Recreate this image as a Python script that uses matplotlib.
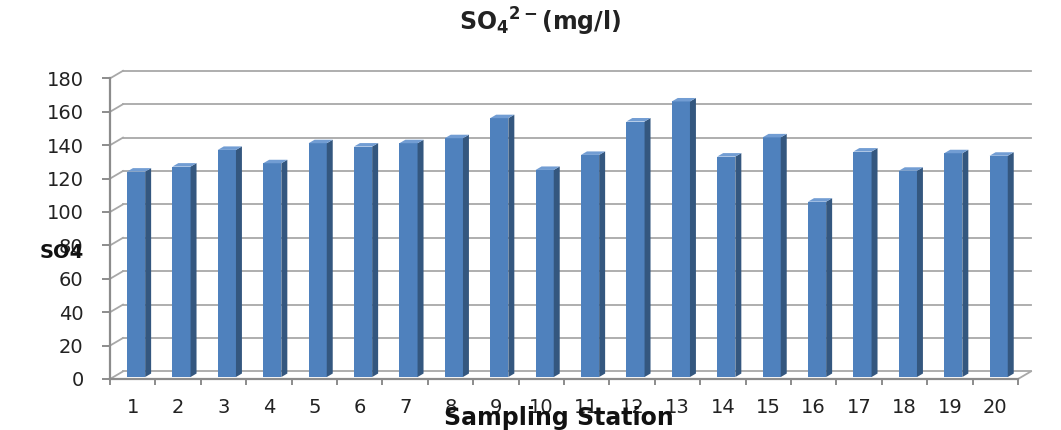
import matplotlib.pyplot as plt
from matplotlib.patches import Polygon

# sulphate concentration per sampling station (mg/l)
stations = [str(i) for i in range(1, 21)]
so4 = [123, 126, 136, 128, 140, 138, 140, 143, 155, 124,
       133, 153, 165, 132, 143.5, 105, 135, 123.5, 134, 132.5]
y_ticks = list(range(0, 181, 20))

FRONT = '#4f81bd'
SIDE = '#34577f'
TOP = '#729dd3'
GRID = '#a8a8a8'
AXIS = '#8c8c8c'

# depth of the back wall in data units (x in categories, y in mg/l)
WALL_DX = 0.286
WALL_DY = 4.55
# bars sit a quarter of the way into the floor and are about half as deep
BAR_D0 = 0.26
BAR_DEPTH = 0.46
BAR_W = 0.40

plt.rcParams['mathtext.fontset'] = 'dejavusans'

fig = plt.figure(figsize=(10.61, 4.30), dpi=100)
ax = fig.add_axes([110 / 1061, 51 / 430, 908 / 1061, 300.6 / 430])
ax.set_xlim(-0.5, len(stations) - 0.5)
ax.set_ylim(0, 180)
ax.patch.set_visible(False)

x_left, x_right = ax.get_xlim()

# back wall gridlines and the slanted lines on the left wall
for v in y_ticks:
    ax.plot([x_left + WALL_DX, x_right + WALL_DX], [v + WALL_DY, v + WALL_DY],
            color=GRID, lw=1.3, clip_on=False, zorder=1)
    ax.plot([x_left, x_left + WALL_DX], [v, v + WALL_DY],
            color=GRID, lw=1.3, clip_on=False, zorder=1)
# right edge of the floor
ax.plot([x_right, x_right + WALL_DX], [0, WALL_DY],
        color=GRID, lw=1.3, clip_on=False, zorder=1)

# 3-D style columns: front face, dark side, light top
ox = BAR_D0 * WALL_DX
oy = BAR_D0 * WALL_DY
dx = BAR_DEPTH * WALL_DX
dy = BAR_DEPTH * WALL_DY
for i, v in enumerate(so4):
    xl = i + ox - BAR_W / 2
    xr = i + ox + BAR_W / 2
    top = v + oy
    ax.bar(i + ox, v, width=BAR_W, bottom=oy, color=FRONT,
           edgecolor='none', zorder=3)
    side = Polygon([(xr, oy), (xr + dx, oy + dy), (xr + dx, top + dy), (xr, top)],
                   closed=True, facecolor=SIDE, edgecolor='none', zorder=3)
    lid = Polygon([(xl, top), (xr, top), (xr + dx, top + dy), (xl + dx, top + dy)],
                  closed=True, facecolor=TOP, edgecolor='none', zorder=3)
    ax.add_patch(side)
    ax.add_patch(lid)

for name in ['top', 'right']:
    ax.spines[name].set_visible(False)
for name in ['left', 'bottom']:
    ax.spines[name].set_color(AXIS)
    ax.spines[name].set_linewidth(1.6)
    ax.spines[name].set_zorder(2)

ax.set_yticks(y_ticks)
ax.tick_params(axis='y', length=6, width=1.4, color=AXIS, pad=13,
               labelsize=14, labelcolor='#222222')
ax.set_xticks(range(len(stations)))
ax.set_xticklabels(stations)
ax.set_xticks([i - 0.5 for i in range(len(stations) + 1)], minor=True)
ax.tick_params(axis='x', which='major', length=0, pad=14,
               labelsize=14, labelcolor='#222222')
ax.tick_params(axis='x', which='minor', length=4.5, width=1.4, color=AXIS)

fig.text(540 / 1061, 1 - 31 / 430, r'SO$_\mathbf{4}$$^\mathbf{2-}$(mg/l)',
         ha='center', va='baseline', fontsize=17, fontweight='bold',
         color='#222222')
fig.text(62 / 1061, 1 - 252 / 430, 'SO4', ha='center', va='center',
         fontsize=14, fontweight='bold', color='#111111')
fig.text(559 / 1061, 1 - 425 / 430, 'Sampling Station', ha='center',
         va='baseline', fontsize=17, fontweight='bold', color='#111111')

fig.savefig('out.png', dpi=100)
